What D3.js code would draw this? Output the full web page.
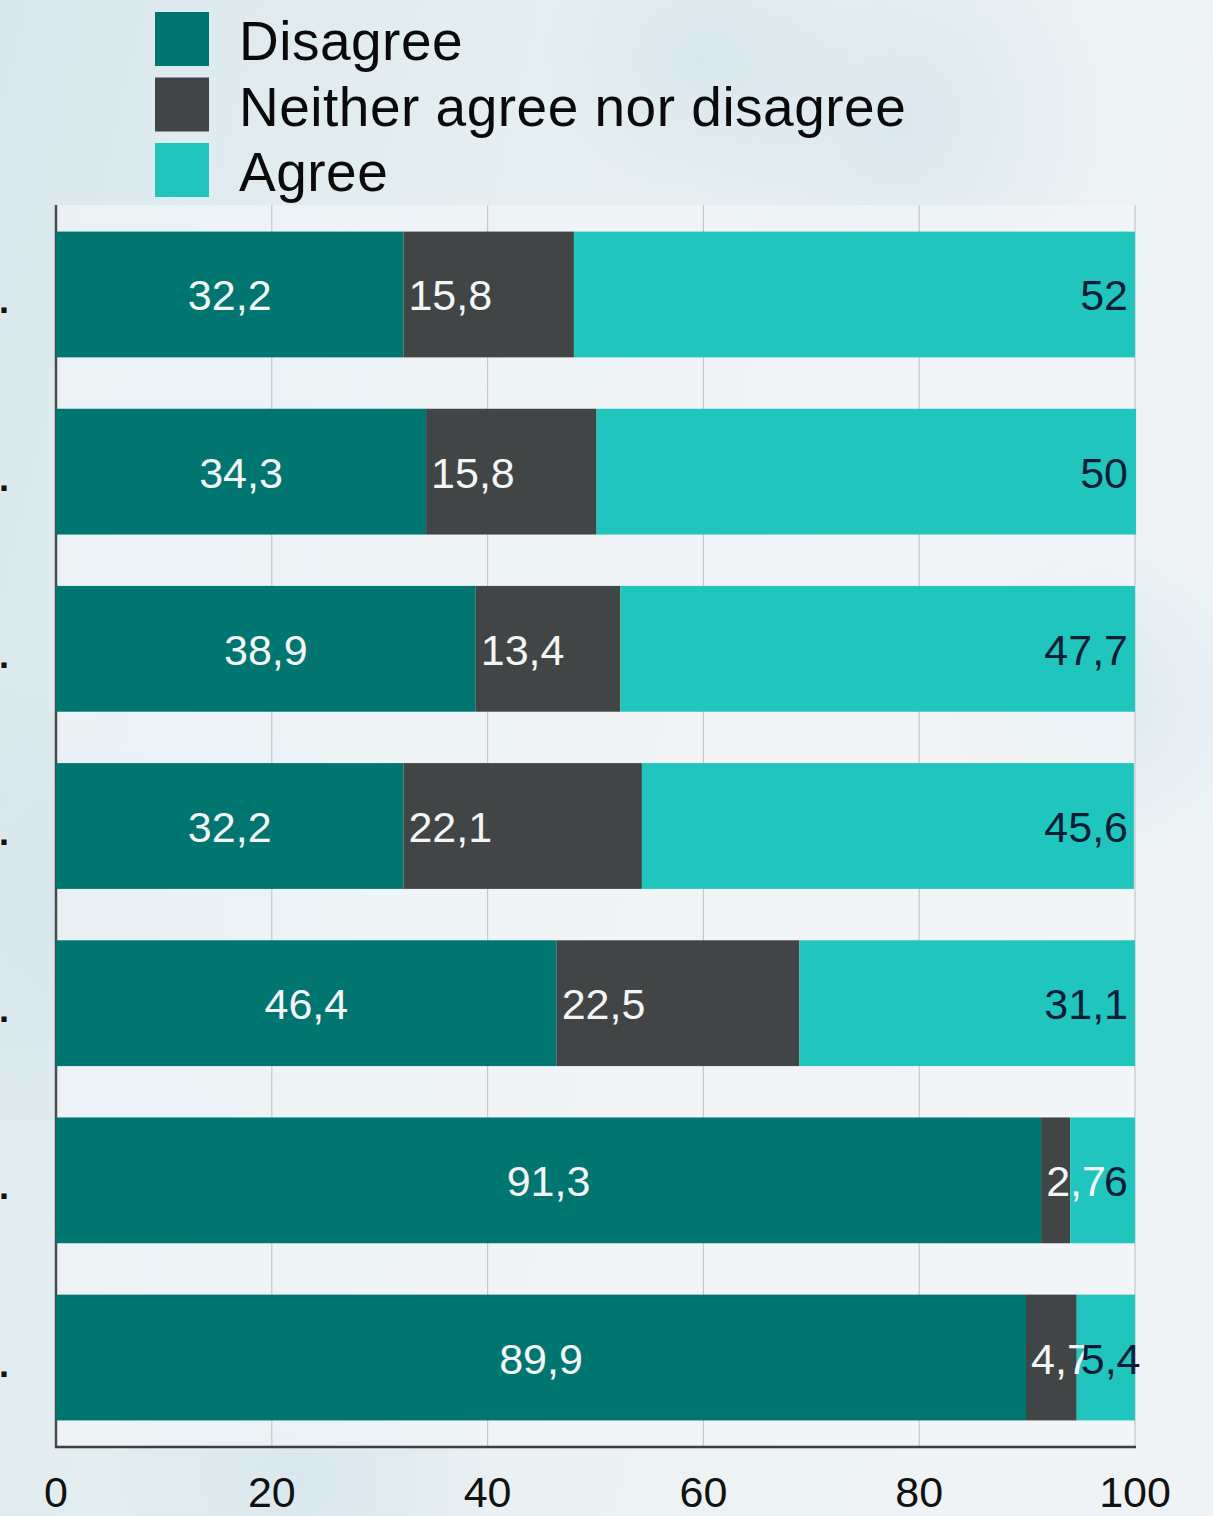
<!DOCTYPE html>
<html>
<head>
<meta charset="utf-8">
<script src="https://cdn.jsdelivr.net/npm/d3@7"></script>
<style>
  html, body { margin: 0; padding: 0; background: #e4eef1; }
  svg { display: block; }
  text { font-family: "Liberation Sans", Arial, Helvetica, sans-serif; }
</style>
</head>
<body>
<script>
// ---- Data ----
const categories = ["Statement 1", "Statement 2", "Statement 3", "Statement 4", "Statement 5", "Statement 6", "Statement 7"];
const seriesNames = ["Disagree", "Neither agree nor disagree", "Agree"];
const disagree = [32.2, 34.3, 38.9, 32.2, 46.4, 91.3, 89.9];
const neither  = [15.8, 15.8, 13.4, 22.1, 22.5, 2.7, 4.7];
const agree    = [52, 50, 47.7, 45.6, 31.1, 6, 5.4];
const xTicks = [0, 20, 40, 60, 80, 100];
const colors = ["#017671", "#414546", "#20c6be"];

// ---- Layout ----
const W = 1213, H = 1516;
const margin = { left: 56, right: 78, top: 205, bottom: 69 };
const innerW = W - margin.left - margin.right;
const innerH = H - margin.top - margin.bottom;

const svg = d3.select("body").append("svg").attr("width", W).attr("height", H);

// background texture approximation
const defs = svg.append("defs");
const bg = defs.append("linearGradient").attr("id", "bg").attr("x1", 0).attr("y1", 0).attr("x2", 1).attr("y2", 0.3);
bg.append("stop").attr("offset", "0%").attr("stop-color", "#d9e8ed");
bg.append("stop").attr("offset", "45%").attr("stop-color", "#e6eff2");
bg.append("stop").attr("offset", "100%").attr("stop-color", "#eff3f5");
svg.append("rect").attr("width", W).attr("height", H).attr("fill", "url(#bg)");
const blobs = [[120, 900, 260], [900, 120, 220], [300, 1480, 200], [1100, 700, 180], [700, 60, 160]];
const rg = defs.append("radialGradient").attr("id", "blob");
rg.append("stop").attr("offset", "0%").attr("stop-color", "#cfe2ea").attr("stop-opacity", 0.55);
rg.append("stop").attr("offset", "100%").attr("stop-color", "#cfe2ea").attr("stop-opacity", 0);
svg.selectAll("circle.blob").data(blobs).join("circle").attr("class", "blob")
  .attr("cx", d => d[0]).attr("cy", d => d[1]).attr("r", d => d[2]).attr("fill", "url(#blob)");

const g = svg.append("g").attr("transform", `translate(${margin.left},${margin.top})`);

const x = d3.scaleLinear().domain([0, 100]).range([0, innerW]);
const y = d3.scaleBand().domain(categories).range([0, innerH]).paddingInner(0.29).paddingOuter(0.15);

// plot area lighter fill
g.append("rect").attr("width", innerW).attr("height", innerH).attr("fill", "#f6f8f9").attr("opacity", 0.55);

// gridlines
g.append("g").selectAll("line").data(xTicks.slice(1)).join("line")
  .attr("x1", d => x(d)).attr("x2", d => x(d)).attr("y1", 0).attr("y2", innerH)
  .attr("stroke", "#c4c8ca").attr("stroke-width", 1.2);

// left axis line (behind bars)
g.append("line").attr("x1", 0).attr("x2", 0).attr("y1", 0).attr("y2", innerH)
  .attr("stroke", "#4a4c4e").attr("stroke-width", 2.5);

// stack
const rows = categories.map((c, i) => ({ cat: c, Disagree: disagree[i], "Neither agree nor disagree": neither[i], Agree: agree[i] }));
const stack = d3.stack().keys(seriesNames)(rows);

const layers = g.selectAll("g.layer").data(stack).join("g").attr("class", "layer")
  .attr("fill", (d, i) => colors[i]);
layers.selectAll("rect").data(d => d).join("rect")
  .attr("x", d => x(d[0])).attr("width", d => x(d[1]) - x(d[0]))
  .attr("y", d => y(d.data.cat)).attr("height", y.bandwidth());

// number format with comma decimal
const fmt = v => String(+v.toFixed(2)).replace(".", ",");
const fs = 43;

// labels
stack.forEach((layer, li) => {
  layer.forEach(d => {
    const cy = y(d.data.cat) + y.bandwidth() / 2 + 16;
    const val = d[1] - d[0];
    const t = g.append("text").attr("y", cy).attr("font-size", fs).text(fmt(val));
    if (li === 0) {
      t.attr("x", (x(d[0]) + x(d[1])) / 2).attr("text-anchor", "middle").attr("fill", "#f4f6f6");
    } else if (li === 1) {
      t.attr("x", x(d[0]) + 5).attr("text-anchor", "start").attr("fill", "#f4f6f6");
    } else {
      t.attr("fill", "#0a1d36");
      const segW = x(d[1]) - x(d[0]);
      const tw = t.node().getComputedTextLength();
      if (tw + 10 > segW) {
        t.attr("x", x(d[0]) + 4).attr("text-anchor", "start");
      } else {
        t.attr("x", innerW - 7).attr("text-anchor", "end");
      }
    }
  });
});

// bottom axis line
g.append("line").attr("x1", -1).attr("x2", innerW + 1).attr("y1", innerH).attr("y2", innerH)
  .attr("stroke", "#3c3e40").attr("stroke-width", 2.5);

// x tick labels
g.append("g").selectAll("text").data(xTicks).join("text")
  .attr("x", d => x(d)).attr("y", innerH + 60).attr("text-anchor", "middle")
  .attr("font-size", 43).attr("fill", "#111").text(d => d);

// y category tick marks: only the trailing dot of each (cropped) label is visible
g.append("g").selectAll("text").data(categories).join("text")
  .attr("x", -margin.left - 1).attr("y", d => y(d) + y.bandwidth() / 2 + 19)
  .attr("text-anchor", "start").attr("font-size", 36).attr("font-weight", "bold").attr("fill", "#111")
  .text(".");

// legend
const legend = svg.append("g").attr("transform", "translate(155,12)");
seriesNames.forEach((s, i) => {
  const row = legend.append("g").attr("transform", `translate(0,${i * 65.5})`);
  row.append("rect").attr("width", 54).attr("height", 54).attr("fill", colors[i]);
  row.append("text").attr("x", 84).attr("y", 48).attr("font-size", 55).attr("letter-spacing", 0.5)
    .attr("fill", "#0a0a0a").text(s);
});
</script>
</body>
</html>
